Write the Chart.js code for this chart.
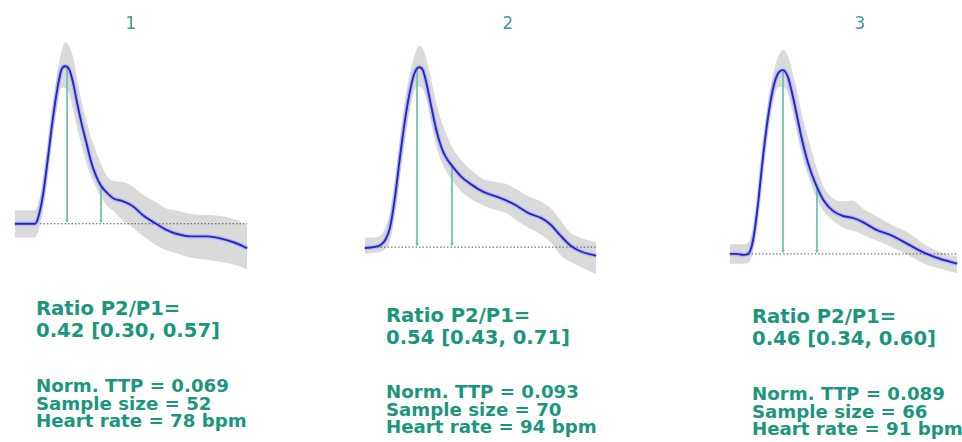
<!DOCTYPE html>
<html>
<head>
<meta charset="utf-8">
<script src="https://cdn.jsdelivr.net/npm/chart.js@4.4.1/dist/chart.umd.min.js"></script>
<style>
    html, body { margin: 0; padding: 0; background: #fff; }
    body { width: 962px; height: 442px; position: relative; overflow: hidden; font-family: "DejaVu Sans", sans-serif; }
    canvas { position: absolute; top: 0; }
    .title { position: absolute; top: 13px; width: 40px; margin-left: -20px; text-align: center; font-size: 17px; line-height: 20px; color: #3a9c8b; }
    .note { position: absolute; font-weight: bold; color: #1b967d; white-space: nowrap; }
    .ratio { font-size: 19.6px; line-height: 22px; }
    .stats { font-size: 18.2px; line-height: 17.7px; }
</style>
</head>
<body>
<canvas id="wave1"></canvas>
<canvas id="wave2"></canvas>
<canvas id="wave3"></canvas>
<div id="labels"></div>
<script>
//----------------------------- Data -----------------------------------
// time (a.u.) and pressure (a.u., 0 = baseline)
const titles = ['1', '2', '3'];

const t1 = [0, 21, 24, 29, 34, 39, 44, 48, 52, 56, 60, 64, 69, 74, 79, 84, 89, 96, 102, 112, 122, 132, 146, 156, 166, 182, 199, 212, 226, 240];
const mean1 = [0, 0, 6, 29, 66, 106, 139, 158, 162, 159, 146, 126, 103, 83, 63, 49, 39, 31, 26, 23, 18, 9, 0, -6, -10, -13, -13, -15, -19, -25];
const upper1 = [14, 14, 20, 45, 82, 122, 156, 176, 187, 183, 172, 152, 126, 106, 88, 74, 61, 48, 44, 43, 38, 30, 22, 16, 14, 10, 9, 8, 5, -1];
const lower1 = [-14, -14, -8, 13, 50, 90, 122, 140, 140, 134, 118, 100, 80, 62, 48, 37, 27, 18, 13, 3, -4, -12, -22, -27, -30, -35, -37, -39, -42, -47];

const t2 = [0, 9, 16, 21, 26, 31, 36, 41, 46, 51, 56, 60, 64, 69, 74, 79, 84, 89, 99, 109, 122, 136, 146, 156, 169, 182, 192, 202, 212, 222, 239];
const mean2 = [-1, 0, 2, 7, 20, 50, 90, 127, 157, 178, 185, 182, 167, 143, 120, 103, 92, 85, 73, 65, 57, 52, 48, 43, 35, 30, 23, 12, 2, -4, -9];
const upper2 = [10, 10, 12, 20, 36, 68, 110, 148, 176, 196, 207, 204, 192, 170, 148, 130, 117, 105, 90, 80, 70, 67, 65, 60, 52, 47, 40, 28, 15, 10, 5];
const lower2 = [-7, -6, -5, -2, 6, 32, 70, 106, 138, 160, 165, 162, 150, 125, 103, 88, 78, 70, 58, 50, 43, 38, 35, 28, 20, 13, 5, -8, -15, -20, -28];

const t3 = [0, 7, 14, 19, 24, 29, 34, 39, 44, 49, 55, 60, 64, 69, 74, 79, 84, 90, 97, 107, 117, 127, 137, 151, 167, 184, 201, 217, 235];
const mean3 = [0, 0, -1, 0, 14, 50, 97, 137, 167, 184, 189, 182, 167, 144, 120, 100, 84, 69, 55, 44, 39, 37, 33, 25, 19, 10, 1, -5, -10];
const upper3 = [10, 10, 10, 12, 26, 64, 112, 152, 182, 200, 210, 204, 190, 170, 146, 126, 108, 88, 69, 57, 54, 55, 47, 39, 30, 22, 10, 2, -3];
const lower3 = [-10, -10, -10, -9, 2, 36, 82, 122, 152, 170, 172, 165, 150, 126, 104, 86, 72, 56, 44, 34, 27, 24, 20, 14, 7, -1, -10, -15, -20];

// P1 / P2 markers: [time of P1, time of P2], [amplitude P1, amplitude P2]
const arrowX = [[54, 89], [54, 90], [55, 90]];
const arrowY = [[160, 39], [184, 84], [189, 69]];
// dotted baseline span (time)
const baseFrom = [26, 9, 19];
const baseTo = [240, 239, 236];

const ratioText = ['0.42 [0.30, 0.57]', '0.54 [0.43, 0.71]', '0.46 [0.34, 0.60]'];
const ttpText = ['0.069', '0.093', '0.089'];
const sampleText = ['52', '70', '66'];
const heartText = ['78', '94', '91'];

//----------------------------- Layout -----------------------------------
const pad = 6;
const panelHeight = 290;
const panels = [
    { id: 'wave1', left: 11, width: 240, base: 226, t: t1, mean: mean1, upper: upper1, lower: lower1, titleX: 131, textX: 36, ratioTop: 298, statsTop: 377 },
    { id: 'wave2', left: 361, width: 239, base: 250, t: t2, mean: mean2, upper: upper2, lower: lower2, titleX: 508, textX: 386, ratioTop: 305, statsTop: 383 },
    { id: 'wave3', left: 726, width: 236, base: 257, t: t3, mean: mean3, upper: upper3, lower: lower3, titleX: 860, textX: 752, ratioTop: 306, statsTop: 385 }
];

function pts(xs, ys) {
    return xs.map((x, i) => ({ x: x, y: ys[i] }));
}

const arrowColor = '#6fc2b2';

panels.forEach((p, k) => {
    const canvas = document.getElementById(p.id);
    canvas.width = p.width + 2 * pad;
    canvas.height = panelHeight;
    canvas.style.left = (p.left - pad) + 'px';

    const curve = { pointRadius: 0, cubicInterpolationMode: 'monotone', clip: false };
    const arrows = arrowX[k].map((ax, j) => ({
        data: [{ x: ax, y: arrowY[k][j] }, { x: ax, y: 3 }],
        borderColor: arrowColor,
        backgroundColor: arrowColor,
        borderWidth: 1,
        pointStyle: 'triangle',
        rotation: 180,
        pointRadius: [0, 2.2],
        pointBorderWidth: 0,
        clip: false,
        order: 2
    }));

    new Chart(canvas, {
        type: 'line',
        data: {
            datasets: [
                { ...curve, data: pts(p.t, p.upper), fill: '+1', backgroundColor: '#dadada', borderWidth: 0, order: 5 },
                { ...curve, data: pts(p.t, p.lower), fill: false, borderWidth: 0, order: 6 },
                {
                    data: [{ x: baseFrom[k], y: 0 }, { x: baseTo[k], y: 0 }],
                    borderColor: '#555', borderWidth: 1, borderDash: [1.5, 2], pointRadius: 0, clip: false, order: 3
                },
                ...arrows,
                { ...curve, data: pts(p.t, p.mean), borderColor: 'rgba(130, 130, 255, 0.35)', borderWidth: 4.5, order: 1 },
                { ...curve, data: pts(p.t, p.mean), borderColor: '#2424cc', borderWidth: 1.9, order: 0 }
            ]
        },
        options: {
            responsive: false,
            animation: false,
            events: [],
            layout: { padding: 0 },
            plugins: {
                legend: { display: false },
                tooltip: { enabled: false }
            },
            scales: {
                x: { type: 'linear', display: false, min: -pad, max: p.width + pad },
                y: { type: 'linear', display: false, min: p.base - panelHeight, max: p.base }
            }
        }
    });

    //----------------------------- Labels -----------------------------------
    const holder = document.getElementById('labels');
    const title = document.createElement('div');
    title.className = 'title';
    title.style.left = p.titleX + 'px';
    title.textContent = titles[k];
    holder.appendChild(title);

    const ratio = document.createElement('div');
    ratio.className = 'note ratio';
    ratio.style.left = p.textX + 'px';
    ratio.style.top = p.ratioTop + 'px';
    ratio.innerHTML = 'Ratio P2/P1=<br>' + ratioText[k];
    holder.appendChild(ratio);

    const stats = document.createElement('div');
    stats.className = 'note stats';
    stats.style.left = p.textX + 'px';
    stats.style.top = p.statsTop + 'px';
    stats.innerHTML = 'Norm. TTP = ' + ttpText[k] + '<br>Sample size = ' + sampleText[k] + '<br>Heart rate = ' + heartText[k] + ' bpm';
    holder.appendChild(stats);
});
</script>
</body>
</html>
